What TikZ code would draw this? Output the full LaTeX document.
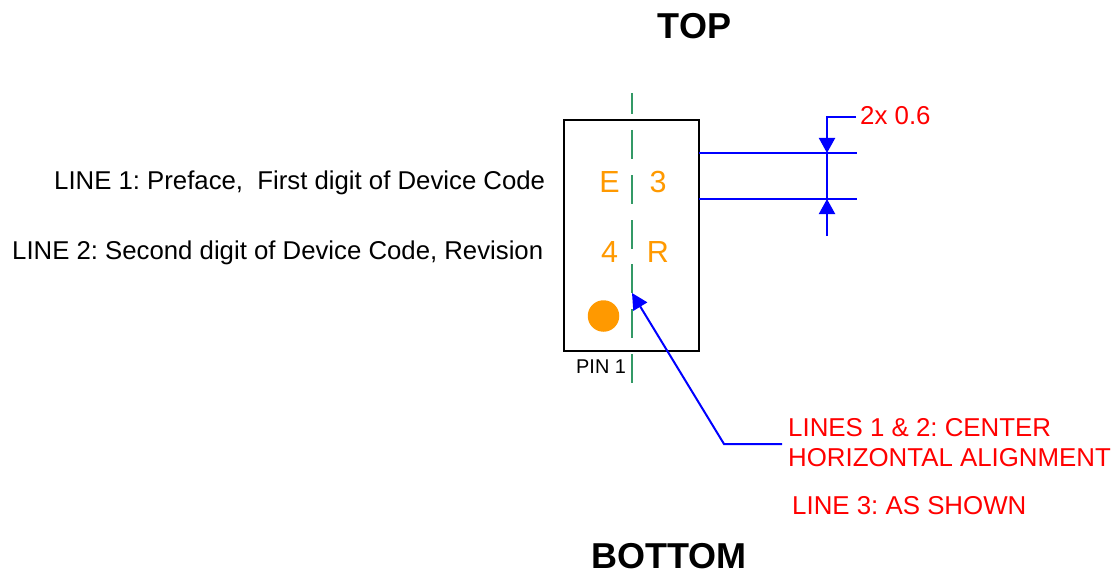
\documentclass[tikz,border=0pt]{standalone}
\usepackage{fontspec}
\setmainfont{Liberation Sans}
\usetikzlibrary{arrows.meta}
\frenchspacing
\definecolor{orng}{RGB}{255,153,0}
\definecolor{grn}{RGB}{51,153,102}
\definecolor{blu}{RGB}{0,0,255}
\tikzset{x=1pt,y=-1pt,
 lab/.style={inner sep=0pt,anchor=base west,text=black,font=\fontsize{25.75}{30}\selectfont},
 redlab/.style={inner sep=0pt,anchor=base west,text=red,font=\fontsize{25.85}{30}\selectfont},
 head/.style={inner sep=0pt,anchor=base,text=black,font=\fontsize{36}{42}\selectfont\bfseries},
 devmark/.style={inner sep=0pt,anchor=base,text=orng,font=\fontsize{30.5}{36}\selectfont},
 pkg/.style={draw=black,line width=2pt,fill=none,inner sep=0pt,minimum width=135pt,minimum height=231pt},
 center line/.style={draw=grn,line width=2.6pt},
 dim/.style={draw=blu,line width=2pt},
 dimarrow/.style={dim,-{Triangle[width=16pt,length=15pt]}},
 leader/.style={dim,-{Triangle[width=16pt,length=16pt]}}
}
\begin{document}
\begin{tikzpicture}
\useasboundingbox (0,0) rectangle (1119,575);
\node[pkg] (box) at (631.5,235.5) {};
\foreach \a/\b in {93/114,130/159,175/204,220/249,264/293,309/338,354/383}
  \draw[center line] (632,\a) -- (632,\b);
\node[head] (top) at (694.5,39) {TOP};
\node[head] (bottom) at (669,568.5) {BOTTOM};
\node[lab] (l1) at (54,189) {LINE 1: Preface,\ \ First digit of Device Code};
\node[lab] (l2) at (12,259) {LINE 2: Second digit of Device Code, Revision};
\node[devmark] (e) at (609.5,193) {E};
\node[devmark] (three) at (658,193) {3};
\node[devmark] (four) at (609.5,262.5) {4};
\node[devmark] (r) at (658,262.5) {R};
\node[circle,fill=orng,inner sep=0pt,minimum size=31.5pt] (dot) at (603.5,316) {};
\node[inner sep=0pt,anchor=base west,text=black,font=\fontsize{19.9}{24}\selectfont] (pin) at (576,373) {PIN 1};
\node[redlab] (dimtxt) at (860,125) {2x 0.6};
\node[redlab] (c1) at (788,436) {LINES 1 \& 2: CENTER};
\node[redlab] (c2) at (788,466) {HORIZONTAL ALIGNMENT};
\node[redlab] (c3) at (792,514) {LINE 3: AS SHOWN};
% dimension lines
\coordinate (e1a) at (699,153); \coordinate (e1b) at (857,153);
\coordinate (e2a) at (699,199); \coordinate (e2b) at (857,199);
\draw[dim] (e1a) -- (e1b);
\draw[dim] (e2a) -- (e2b);
\coordinate (d0) at (856,117); \coordinate (d1) at (827,117);
\coordinate (d2) at (827,153); \coordinate (d3) at (827,236); \coordinate (d4) at (827,199);
\draw[dimarrow] (d0) -- (d1) -- (d2);
\draw[dim] (d2) -- (d4);
\draw[dimarrow] (d3) -- (d4);
% leader
\coordinate (k0) at (782,444); \coordinate (k1) at (724,444); \coordinate (k2) at (632,293);
\draw[leader] (k0) -- (k1) -- (k2);
\end{tikzpicture}
\end{document}
